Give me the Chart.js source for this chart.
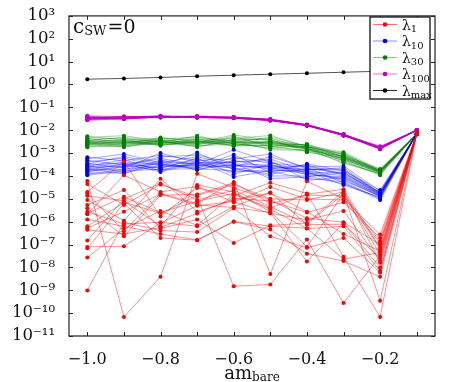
<!DOCTYPE html>
<html><head><meta charset="utf-8">
<script src="https://cdn.jsdelivr.net/npm/chart.js@4/dist/chart.umd.min.js"></script>
<style>html,body{margin:0;padding:0;background:#fff;}#wrap{width:458px;height:382px;}</style>
</head><body><div id="wrap"><canvas id="c" width="458" height="382"></canvas></div>
<script>
// x positions (am_bare)
const amBare = [-1.0, -0.9, -0.8, -0.7, -0.6, -0.5, -0.4, -0.3, -0.2, -0.1];
const xTickValues = [-1.0, -0.9, -0.8, -0.7, -0.6, -0.5, -0.4, -0.3, -0.2, -0.1];
const yTickExponents = [3, 2, 1, 0, -1, -2, -3, -4, -5, -6, -7, -8, -9, -10, -11];
const legendNames = [["λ", "1"], ["λ", "10"], ["λ", "30"], ["λ", "100"], ["λ", "max"]];

// lambda_1, one row per configuration
const lambda1 = [
  [6.0e-5, 6.8e-11, 3.9e-9, 1.26e-4, 3.0e-5, 8.9e-6, 1.4e-6, 9.5e-7, 1.0e-7, 7.0e-3],
  [4.4e-5, 5.4e-6, 4.2e-5, 1.23e-5, 1.5e-9, 1.8e-9, 1.66e-7, 2.75e-10, 3.2e-8, 7.2e-3],
  [2.0e-5, 4.3e-4, 1.7e-6, 3.0e-5, 1.35e-5, 5.1e-5, 1.7e-5, 2.9e-8, 6.8e-11, 6.8e-3],
  [1.7e-5, 3.8e-7, 1.7e-5, 6.3e-6, 5.5e-5, 5.1e-9, 5.9e-5, 1.0e-5, 2.75e-7, 7.1e-3],
  [1.35e-5, 8.1e-6, 6.3e-7, 4.0e-5, 2.0e-5, 2.75e-6, 7.9e-8, 1.7e-5, 3.5e-10, 6.9e-3],
  [8.9e-6, 1.1e-6, 7.6e-5, 2.75e-6, 8.9e-6, 1.8e-5, 2.75e-6, 2.9e-7, 5.1e-8, 7.3e-3],
  [5.4e-6, 2.4e-5, 5.0e-7, 1.26e-6, 1.17e-7, 6.9e-7, 8.7e-7, 2.2e-5, 1.6e-8, 7.0e-3],
  [3.9e-6, 2.3e-7, 1.45e-5, 1.55e-5, 5.0e-5, 6.3e-6, 1.45e-5, 1.35e-5, 1.4e-7, 6.7e-3],
  [2.75e-6, 7.8e-7, 9.5e-7, 6.3e-7, 4.6e-6, 1.9e-5, 7.4e-7, 7.8e-7, 2.5e-8, 7.1e-3],
  [2.3e-6, 1.23e-5, 2.5e-6, 7.9e-6, 1.7e-5, 3.9e-6, 1.6e-5, 2.6e-5, 7.2e-8, 7.0e-3],
  [2.1e-6, 1.07e-4, 2.0e-5, 3.5e-5, 7.1e-6, 3.3e-5, 9.8e-6, 8.9e-6, 1.17e-7, 7.2e-3],
  [1.26e-6, 6.3e-7, 2.9e-7, 1.6e-7, 1.02e-6, 6.3e-7, 5.2e-7, 2.3e-8, 4.5e-8, 6.9e-3],
  [6.3e-7, 7.1e-6, 2.3e-6, 1.4e-5, 4.2e-5, 1.0e-5, 8.9e-6, 2.0e-5, 6.2e-8, 7.1e-3],
  [5.2e-7, 2.75e-6, 1.6e-5, 5.4e-6, 4.2e-6, 2.5e-6, 1.8e-8, 8.9e-7, 9.8e-9, 7.0e-3],
  [4.4e-7, 2.9e-7, 5.6e-7, 2.3e-6, 1.05e-5, 8.1e-6, 2.5e-6, 7.1e-6, 1.95e-7, 6.8e-3],
  [1.5e-7, 9.8e-6, 4.7e-5, 8.9e-6, 2.4e-5, 4.6e-6, 7.9e-7, 1.6e-5, 3.7e-8, 7.2e-3],
  [7.9e-8, 8.5e-8, 8.7e-7, 5.0e-6, 7.6e-6, 2.3e-6, 1.2e-6, 2.95e-6, 1.9e-8, 7.0e-3],
  [6.8e-8, 6.3e-6, 1.95e-7, 1.55e-7, 1.0e-6, 4.5e-7, 4.0e-8, 1.9e-8, 3.9e-9, 6.9e-3],
  [2.7e-8, 4.9e-7, 2.95e-6, 6.9e-7, 1.6e-5, 3.5e-6, 5.0e-7, 6.3e-7, 7.1e-9, 7.1e-3],
  [9.8e-10, 9.3e-7, 4.1e-7, 3.5e-7, 3.9e-6, 2.3e-7, 7.2e-8, 1.95e-7, 6.0e-9, 7.0e-3]
];

// lambda_10
const lambda10 = [
  [6.6e-4, 4.6e-4, 8.0e-4, 4.8e-4, 5.5e-4, 9.1e-4, 2.0e-4, 2.0e-4, 1.65e-5, 7.0e-3],
  [5.6e-4, 9.1e-4, 3.8e-4, 6.9e-4, 3.1e-4, 2.0e-4, 3.0e-4, 1.2e-4, 1.9e-5, 6.9e-3],
  [4.8e-4, 3.0e-4, 5.8e-4, 3.2e-4, 1.4e-3, 4.0e-4, 1.3e-4, 1.5e-4, 1.5e-5, 7.0e-3],
  [4.2e-4, 6.0e-4, 2.7e-4, 1.05e-3, 1.9e-4, 2.8e-4, 2.5e-4, 2.7e-4, 2.2e-5, 7.1e-3],
  [3.6e-4, 2.2e-4, 1.0e-3, 3.8e-4, 3.9e-4, 5.5e-4, 1.6e-4, 7.0e-5, 1.25e-5, 7.0e-3],
  [3.3e-4, 7.2e-4, 3.3e-4, 2.6e-4, 8.5e-4, 1.4e-4, 3.4e-4, 1.65e-4, 2.4e-5, 6.9e-3],
  [3.0e-4, 3.8e-4, 2.1e-4, 6.0e-4, 1.2e-4, 3.3e-4, 1.1e-4, 9.2e-5, 1.4e-5, 7.0e-3],
  [2.8e-4, 1.5e-4, 4.5e-4, 1.8e-4, 4.8e-4, 2.4e-4, 1.8e-4, 2.3e-4, 1.75e-5, 7.1e-3],
  [2.6e-4, 5.2e-4, 1.65e-4, 4.1e-4, 2.5e-4, 7.0e-4, 2.3e-4, 5.0e-5, 8.9e-6, 7.0e-3],
  [2.45e-4, 2.6e-4, 6.8e-4, 8.2e-4, 3.6e-4, 7.6e-5, 9.0e-5, 1.4e-4, 2.0e-5, 6.9e-3],
  [2.3e-4, 4.1e-4, 3.1e-4, 2.2e-4, 6.5e-4, 3.6e-4, 2.7e-4, 1.1e-4, 1.6e-5, 7.0e-3],
  [2.1e-4, 1.26e-4, 4.1e-4, 3.4e-4, 1.5e-4, 1.85e-4, 1.5e-4, 4.0e-5, 1.2e-5, 7.0e-3],
  [2.0e-4, 3.2e-4, 2.3e-4, 5.3e-4, 2.7e-4, 2.6e-4, 1.9e-4, 1.8e-4, 1.8e-5, 7.1e-3],
  [1.85e-4, 1.85e-4, 5.0e-4, 2.8e-4, 4.3e-4, 4.6e-4, 6.5e-5, 8.5e-5, 1.45e-5, 6.9e-3],
  [1.75e-4, 3.5e-4, 1.5e-4, 3.6e-4, 2.1e-4, 1.2e-4, 2.15e-4, 1.3e-4, 1.7e-5, 7.0e-3],
  [1.6e-4, 2.4e-4, 3.5e-4, 1.9e-4, 3.3e-4, 3.0e-4, 1.4e-4, 6.3e-5, 1.35e-5, 7.0e-3],
  [1.5e-4, 2.8e-4, 1.8e-4, 4.4e-4, 9.1e-5, 1.7e-4, 1.7e-4, 1.0e-4, 1.55e-5, 7.1e-3],
  [1.35e-4, 1.35e-4, 2.9e-4, 2.4e-4, 2.9e-4, 2.2e-4, 1.2e-4, 7.8e-5, 1.3e-5, 6.9e-3],
  [1.2e-4, 2.0e-4, 2.5e-4, 3.0e-4, 2.3e-4, 1.0e-4, 1.0e-4, 4.5e-5, 1.1e-5, 7.0e-3],
  [1.07e-4, 1.7e-4, 1.95e-4, 2.05e-4, 1.7e-4, 1.55e-4, 7.8e-5, 5.6e-5, 1.0e-5, 7.0e-3]
];

// lambda_30
const lambda30 = [
  [5.4e-3, 3.8e-3, 4.4e-3, 3.7e-3, 4.3e-3, 5.9e-3, 1.9e-3, 9.2e-4, 1.62e-4, 6.8e-3],
  [4.8e-3, 5.8e-3, 3.35e-3, 4.6e-3, 3.1e-3, 2.5e-3, 2.35e-3, 6.8e-4, 1.76e-4, 6.9e-3],
  [4.4e-3, 3.0e-3, 3.9e-3, 2.9e-3, 6.2e-3, 3.7e-3, 1.55e-3, 7.7e-4, 1.54e-4, 6.8e-3],
  [4.0e-3, 4.5e-3, 2.85e-3, 5.8e-3, 2.5e-3, 3.0e-3, 2.1e-3, 1.1e-3, 1.9e-4, 6.7e-3],
  [3.7e-3, 2.6e-3, 4.8e-3, 3.2e-3, 3.6e-3, 4.4e-3, 1.7e-3, 5.4e-4, 1.35e-4, 6.8e-3],
  [3.55e-3, 5.0e-3, 3.15e-3, 2.6e-3, 5.4e-3, 1.9e-3, 2.5e-3, 8.1e-4, 2.0e-4, 6.9e-3],
  [3.4e-3, 3.45e-3, 2.55e-3, 4.2e-3, 2.1e-3, 3.3e-3, 1.45e-3, 6.2e-4, 1.47e-4, 6.8e-3],
  [3.2e-3, 2.05e-3, 3.55e-3, 1.8e-3, 4.0e-3, 2.7e-3, 1.8e-3, 1.0e-3, 1.68e-4, 6.8e-3],
  [3.1e-3, 4.1e-3, 2.2e-3, 3.35e-3, 2.8e-3, 5.0e-3, 2.0e-3, 4.4e-4, 1.07e-4, 6.7e-3],
  [3.0e-3, 2.8e-3, 4.1e-3, 5.0e-3, 3.4e-3, 1.4e-3, 1.3e-3, 7.3e-4, 1.82e-4, 6.8e-3],
  [2.9e-3, 3.6e-3, 3.05e-3, 2.3e-3, 4.8e-3, 3.5e-3, 2.2e-3, 6.6e-4, 1.6e-4, 6.9e-3],
  [2.8e-3, 1.8e-3, 3.45e-3, 3.0e-3, 2.2e-3, 2.35e-3, 1.65e-3, 3.5e-4, 1.3e-4, 6.8e-3],
  [2.7e-3, 3.15e-3, 2.65e-3, 3.9e-3, 2.9e-3, 2.85e-3, 1.85e-3, 8.6e-4, 1.72e-4, 6.8e-3],
  [2.6e-3, 2.35e-3, 3.7e-3, 2.7e-3, 3.8e-3, 4.0e-3, 1.1e-3, 6.0e-4, 1.5e-4, 6.7e-3],
  [2.5e-3, 3.3e-3, 2.1e-3, 3.1e-3, 2.6e-3, 1.75e-3, 1.95e-3, 7.0e-4, 1.65e-4, 6.8e-3],
  [2.4e-3, 2.7e-3, 3.25e-3, 1.95e-3, 3.25e-3, 3.15e-3, 1.6e-3, 5.1e-4, 1.43e-4, 6.9e-3],
  [2.3e-3, 2.9e-3, 2.35e-3, 3.5e-3, 2.0e-3, 2.2e-3, 1.75e-3, 6.4e-4, 1.57e-4, 6.8e-3],
  [2.15e-3, 1.9e-3, 2.95e-3, 2.45e-3, 3.0e-3, 2.6e-3, 1.5e-3, 5.7e-4, 1.4e-4, 6.8e-3],
  [1.95e-3, 2.5e-3, 2.75e-3, 2.8e-3, 2.7e-3, 1.6e-3, 1.4e-3, 4.0e-4, 1.25e-4, 6.7e-3],
  [1.8e-3, 2.2e-3, 2.45e-3, 2.15e-3, 2.35e-3, 2.05e-3, 1.2e-3, 4.8e-4, 1.17e-4, 6.8e-3]
];

// lambda_100
const lambda100 = [
  [3.6e-2, 3.8e-2, 4.1e-2, 4.0e-2, 3.7e-2, 3.0e-2, 1.75e-2, 6.6e-3, 1.8e-3, 1.0e-2],
  [3.1e-2, 3.4e-2, 3.8e-2, 3.7e-2, 3.4e-2, 2.7e-2, 1.6e-2, 6.0e-3, 1.6e-3, 1.0e-2],
  [3.9e-2, 3.3e-2, 4.0e-2, 3.9e-2, 3.6e-2, 2.9e-2, 1.7e-2, 6.4e-3, 1.75e-3, 1.02e-2],
  [2.9e-2, 3.7e-2, 3.7e-2, 3.6e-2, 3.3e-2, 2.65e-2, 1.55e-2, 5.8e-3, 1.5e-3, 9.8e-3],
  [3.4e-2, 3.0e-2, 3.9e-2, 4.2e-2, 3.8e-2, 3.1e-2, 1.8e-2, 6.8e-3, 1.9e-3, 1.0e-2],
  [3.2e-2, 3.6e-2, 4.3e-2, 3.8e-2, 3.5e-2, 2.8e-2, 1.65e-2, 6.1e-3, 1.65e-3, 1.01e-2],
  [4.3e-2, 3.9e-2, 3.8e-2, 3.5e-2, 3.4e-2, 2.75e-2, 1.62e-2, 6.2e-3, 1.7e-3, 1.0e-2],
  [2.7e-2, 3.2e-2, 3.6e-2, 3.9e-2, 3.7e-2, 2.9e-2, 1.7e-2, 6.3e-3, 1.6e-3, 9.9e-3],
  [3.5e-2, 4.1e-2, 3.9e-2, 3.7e-2, 3.5e-2, 2.85e-2, 1.68e-2, 6.5e-3, 1.8e-3, 1.0e-2],
  [3.0e-2, 3.5e-2, 4.0e-2, 3.8e-2, 3.6e-2, 2.8e-2, 1.6e-2, 5.9e-3, 1.55e-3, 1.0e-2],
  [3.7e-2, 3.3e-2, 3.7e-2, 4.0e-2, 3.4e-2, 2.7e-2, 1.64e-2, 6.0e-3, 1.45e-3, 1.01e-2],
  [3.3e-2, 3.8e-2, 4.2e-2, 3.6e-2, 3.6e-2, 3.0e-2, 1.72e-2, 6.4e-3, 1.7e-3, 1.0e-2],
  [2.8e-2, 3.1e-2, 3.8e-2, 3.7e-2, 3.3e-2, 2.6e-2, 1.58e-2, 5.9e-3, 1.6e-3, 9.9e-3],
  [3.8e-2, 3.6e-2, 3.9e-2, 3.9e-2, 3.7e-2, 2.95e-2, 1.74e-2, 6.5e-3, 1.85e-3, 1.0e-2],
  [3.4e-2, 3.9e-2, 3.6e-2, 3.8e-2, 3.5e-2, 2.8e-2, 1.66e-2, 6.2e-3, 2.0e-3, 1.0e-2],
  [3.1e-2, 3.5e-2, 4.1e-2, 3.7e-2, 3.4e-2, 2.7e-2, 1.62e-2, 6.1e-3, 1.65e-3, 1.0e-2],
  [3.5e-2, 3.2e-2, 3.8e-2, 4.1e-2, 3.6e-2, 2.9e-2, 1.68e-2, 6.3e-3, 1.75e-3, 1.01e-2],
  [3.2e-2, 3.7e-2, 4.0e-2, 3.6e-2, 3.5e-2, 2.75e-2, 1.63e-2, 6.0e-3, 1.55e-3, 9.9e-3],
  [4.0e-2, 3.4e-2, 3.7e-2, 3.8e-2, 3.6e-2, 2.85e-2, 1.7e-2, 6.6e-3, 1.7e-3, 1.0e-2],
  [3.3e-2, 3.6e-2, 3.9e-2, 3.9e-2, 3.5e-2, 2.8e-2, 1.65e-2, 6.2e-3, 1.65e-3, 1.0e-2]
];

// lambda_max
const lambdaMax = [1.71, 1.84, 2.03, 2.31, 2.55, 2.82, 3.1, 3.44, 3.8, 4.2];

const SERIF = '"DejaVu Serif", serif';
const SUP = {'0':'⁰','1':'¹','2':'²','3':'³','4':'⁴','5':'⁵','6':'⁶','7':'⁷','8':'⁸','9':'⁹','-':'⁻'};

const styles = [
  {dot: '#ff0000', line: 'rgba(255,0,0,0.55)'},
  {dot: '#0000ff', line: 'rgba(0,0,255,0.45)'},
  {dot: '#008000', line: 'rgba(0,128,0,0.45)'},
  {dot: '#bf00bf', line: 'rgba(191,0,191,0.55)'},
  {dot: '#000000', line: 'rgba(0,0,0,0.85)'}
];

function mkSet(vals, st) {
  return {
    data: vals.map((v, i) => ({x: amBare[i], y: v})),
    borderColor: st.line,
    backgroundColor: st.dot,
    pointBackgroundColor: st.dot,
    pointBorderWidth: 0,
    pointRadius: 2,
    borderWidth: 0.8,
    tension: 0,
    fill: false
  };
}

const datasets = [];
lambda1.forEach(r => datasets.push(mkSet(r, styles[0])));
lambda10.forEach(r => datasets.push(mkSet(r, styles[1])));
lambda30.forEach(r => datasets.push(mkSet(r, styles[2])));
lambda100.forEach(r => datasets.push(mkSet(r, styles[3])));
datasets.push(mkSet(lambdaMax, styles[4]));

function subText(ctx, x, y, main, sub, mainSize, subSize, drop) {
  ctx.font = mainSize + 'px ' + SERIF;
  ctx.fillText(main, x, y);
  const w = ctx.measureText(main).width;
  ctx.font = subSize + 'px ' + SERIF;
  ctx.fillText(sub, x + w, y + drop);
  return w + ctx.measureText(sub).width;
}

const decor = {
  id: 'decor',
  afterDraw(chart) {
    const {ctx, chartArea: a, scales: {x, y}} = chart;
    ctx.save();
    // frame
    ctx.strokeStyle = '#222';
    ctx.lineWidth = 1.2;
    ctx.strokeRect(a.left, a.top, a.right - a.left, a.bottom - a.top);
    // inward ticks on all four sides
    ctx.lineWidth = 1;
    ctx.beginPath();
    xTickValues.forEach(v => {
      const px = Math.round(x.getPixelForValue(v)) + 0.5;
      ctx.moveTo(px, a.bottom); ctx.lineTo(px, a.bottom - 4);
      ctx.moveTo(px, a.top); ctx.lineTo(px, a.top + 4);
    });
    yTickExponents.forEach(e => {
      const py = Math.round(y.getPixelForValue(Math.pow(10, e))) + 0.5;
      ctx.moveTo(a.left, py); ctx.lineTo(a.left + 4, py);
      ctx.moveTo(a.right, py); ctx.lineTo(a.right - 4, py);
    });
    ctx.stroke();

    // c_SW = 0 annotation
    ctx.fillStyle = '#111';
    ctx.textBaseline = 'alphabetic';
    ctx.textAlign = 'left';
    let cx = a.left + 4;
    const cy = a.top + 17.5;
    ctx.font = '20px ' + SERIF;
    ctx.fillText('c', cx, cy);
    cx += ctx.measureText('c').width;
    ctx.font = '13px ' + SERIF;
    ctx.fillText('SW', cx, cy + 1.5);
    cx += ctx.measureText('SW').width + 1;
    ctx.font = '19px ' + SERIF;
    ctx.fillText('=0', cx, cy);

    // x axis title am_bare
    ctx.font = '18px ' + SERIF;
    const wMain = ctx.measureText('am').width;
    ctx.font = '12px ' + SERIF;
    const wSub = ctx.measureText('bare').width;
    const tx = (a.left + a.right) / 2 - (wMain + wSub) / 2;
    subText(ctx, tx, 378.5, 'am', 'bare', 18, 12, 2.5);

    // legend
    const lx = 370, ly = 17, lw = 60, lh = 82;
    ctx.fillStyle = '#fff';
    ctx.fillRect(lx, ly, lw, lh);
    ctx.strokeStyle = '#111';
    ctx.lineWidth = 1.3;
    ctx.strokeRect(lx, ly, lw, lh);
    legendNames.forEach((nm, i) => {
      const ry = 24.5 + i * 16.5;
      const st = styles[i];
      ctx.strokeStyle = st.line;
      ctx.lineWidth = 1;
      ctx.beginPath();
      ctx.moveTo(lx + 3, ry); ctx.lineTo(lx + 27, ry);
      ctx.stroke();
      ctx.fillStyle = st.dot;
      ctx.beginPath();
      ctx.arc(lx + 15, ry, 2.3, 0, Math.PI * 2);
      ctx.fill();
      ctx.fillStyle = '#111';
      subText(ctx, lx + 32, ry + 5, nm[0], nm[1], 14, 10, 2.5);
    });
    ctx.restore();
  }
};

new Chart(document.getElementById('c'), {
  type: 'line',
  data: {datasets},
  options: {
    responsive: false,
    animation: false,
    devicePixelRatio: 1,
    layout: {padding: {left: 0, top: 12, right: 23, bottom: 0}},
    plugins: {legend: {display: false}, tooltip: {enabled: false}},
    scales: {
      x: {
        type: 'linear',
        min: -1.05,
        max: -0.05,
        grid: {display: false},
        border: {display: false},
        afterBuildTicks: s => { s.ticks = xTickValues.map(v => ({value: v})); },
        afterFit: s => { s.height = 46; },
        ticks: {
          autoSkip: false,
          maxRotation: 0,
          padding: 6,
          color: '#111',
          font: {family: SERIF, size: 16},
          callback: v => {
            const k = Math.round(v * 10);
            if (k % 2 !== 0) return '';
            return (v < 0 ? '−' : '') + Math.abs(v).toFixed(1);
          }
        }
      },
      y: {
        type: 'logarithmic',
        min: 1e-11,
        max: 1e3,
        grid: {display: false},
        border: {display: false},
        afterBuildTicks: s => { s.ticks = yTickExponents.map(e => ({value: Math.pow(10, e)})); },
        afterFit: s => { s.width = 69; },
        ticks: {
          autoSkip: false,
          padding: 6,
          color: '#111',
          font: {family: SERIF, size: 16.5},
          callback: v => {
            const e = Math.round(Math.log10(v));
            return '10' + String(e).split('').map(c => SUP[c]).join('');
          }
        }
      }
    }
  },
  plugins: [decor]
});
</script>
</body></html>
